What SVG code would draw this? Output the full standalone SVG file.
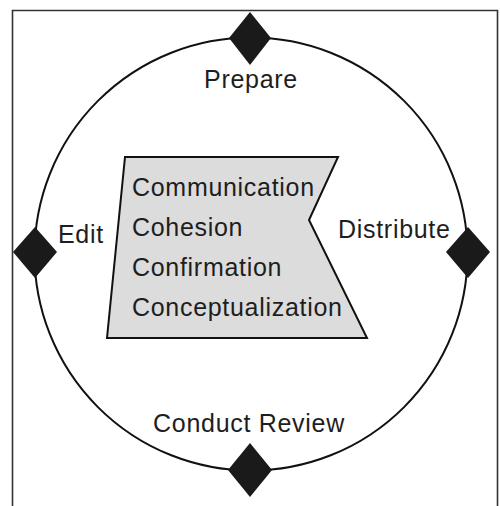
<svg xmlns="http://www.w3.org/2000/svg" width="500" height="506" viewBox="0 0 500 506">
<style>
.lbl{font-family:"Liberation Sans",Arial,sans-serif;font-size:25px;letter-spacing:0.7px;fill:#1e1e1e}
.dia{fill:#1a1a1a;stroke:none}
</style>
<rect width="500" height="506" fill="#fff"/>
<g id="frame"><path d="M12.5,506 V10.5 H497.5 V506" fill="none" stroke="#333" stroke-width="1.6"/></g>
<g id="connectors"><circle cx="251" cy="254" r="216.5" fill="none" stroke="#111" stroke-width="2"/></g>
<g id="center">
<polygon points="125,157 338,157 309,220 367,338 107,338" fill="#dcdcdc" stroke="#111" stroke-width="2" stroke-linejoin="miter"/>
<text class="lbl" x="132" y="196">Communication</text>
<text class="lbl" x="132" y="236">Cohesion</text>
<text class="lbl" x="132" y="276">Confirmation</text>
<text class="lbl" x="132" y="316">Conceptualization</text>
</g>
<g id="prepare"><polygon class="dia" points="250,12 271,38 250,65 229,38"/><text class="lbl" x="251" y="88" text-anchor="middle">Prepare</text></g>
<g id="edit"><polygon class="dia" points="35,227 57,252 35,278 13,252"/><text class="lbl" x="58" y="243">Edit</text></g>
<g id="distribute"><polygon class="dia" points="468,227 490,252 468,278 446,252"/><text class="lbl" x="338" y="238">Distribute</text></g>
<g id="review"><polygon class="dia" points="250,443 272,470 250,497 228,470"/><text class="lbl" x="249" y="432" text-anchor="middle">Conduct Review</text></g>
</svg>
